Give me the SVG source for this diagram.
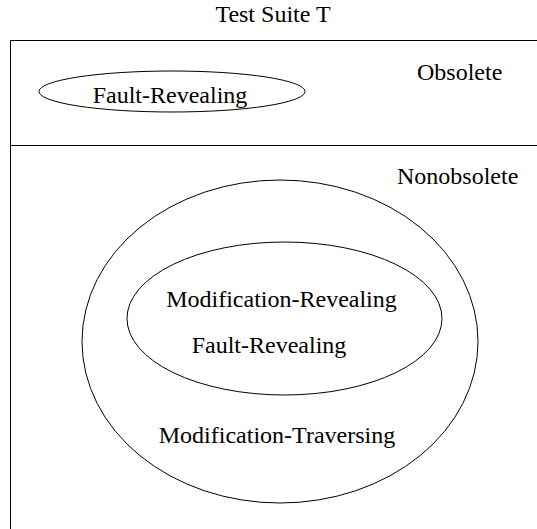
<svg xmlns="http://www.w3.org/2000/svg" width="537" height="529" viewBox="0 0 537 529">
<style>
text{font-family:"Liberation Serif","Times New Roman",serif;font-size:24px;fill:#000}
.c{text-anchor:middle}
.s{fill:none;stroke:#000;stroke-width:1}
</style>
<rect width="537" height="529" fill="#fff"/>
<g id="frame">
<path class="s" d="M537,40.5 H10.5 V529"/>
<line class="s" x1="10.5" y1="145.5" x2="537" y2="145.5"/>
<text class="c" x="273" y="22">Test Suite T</text>
<text x="417" y="80">Obsolete</text>
<text x="397" y="184">Nonobsolete</text>
</g>
<g id="obsolete-fault-revealing">
<ellipse class="s" cx="172" cy="91.5" rx="133" ry="20.5"/>
<text class="c" x="170" y="103">Fault-Revealing</text>
</g>
<g id="modification-traversing">
<ellipse class="s" cx="280" cy="341.5" rx="198" ry="161.5"/>
<text class="c" x="277" y="443">Modification-Traversing</text>
</g>
<g id="modification-revealing">
<ellipse class="s" cx="284.5" cy="318.5" rx="157.5" ry="76.5"/>
<text class="c" x="281.5" y="307">Modification-Revealing</text>
<text class="c" x="269" y="353">Fault-Revealing</text>
</g>
<g id="connectors"/>
</svg>
